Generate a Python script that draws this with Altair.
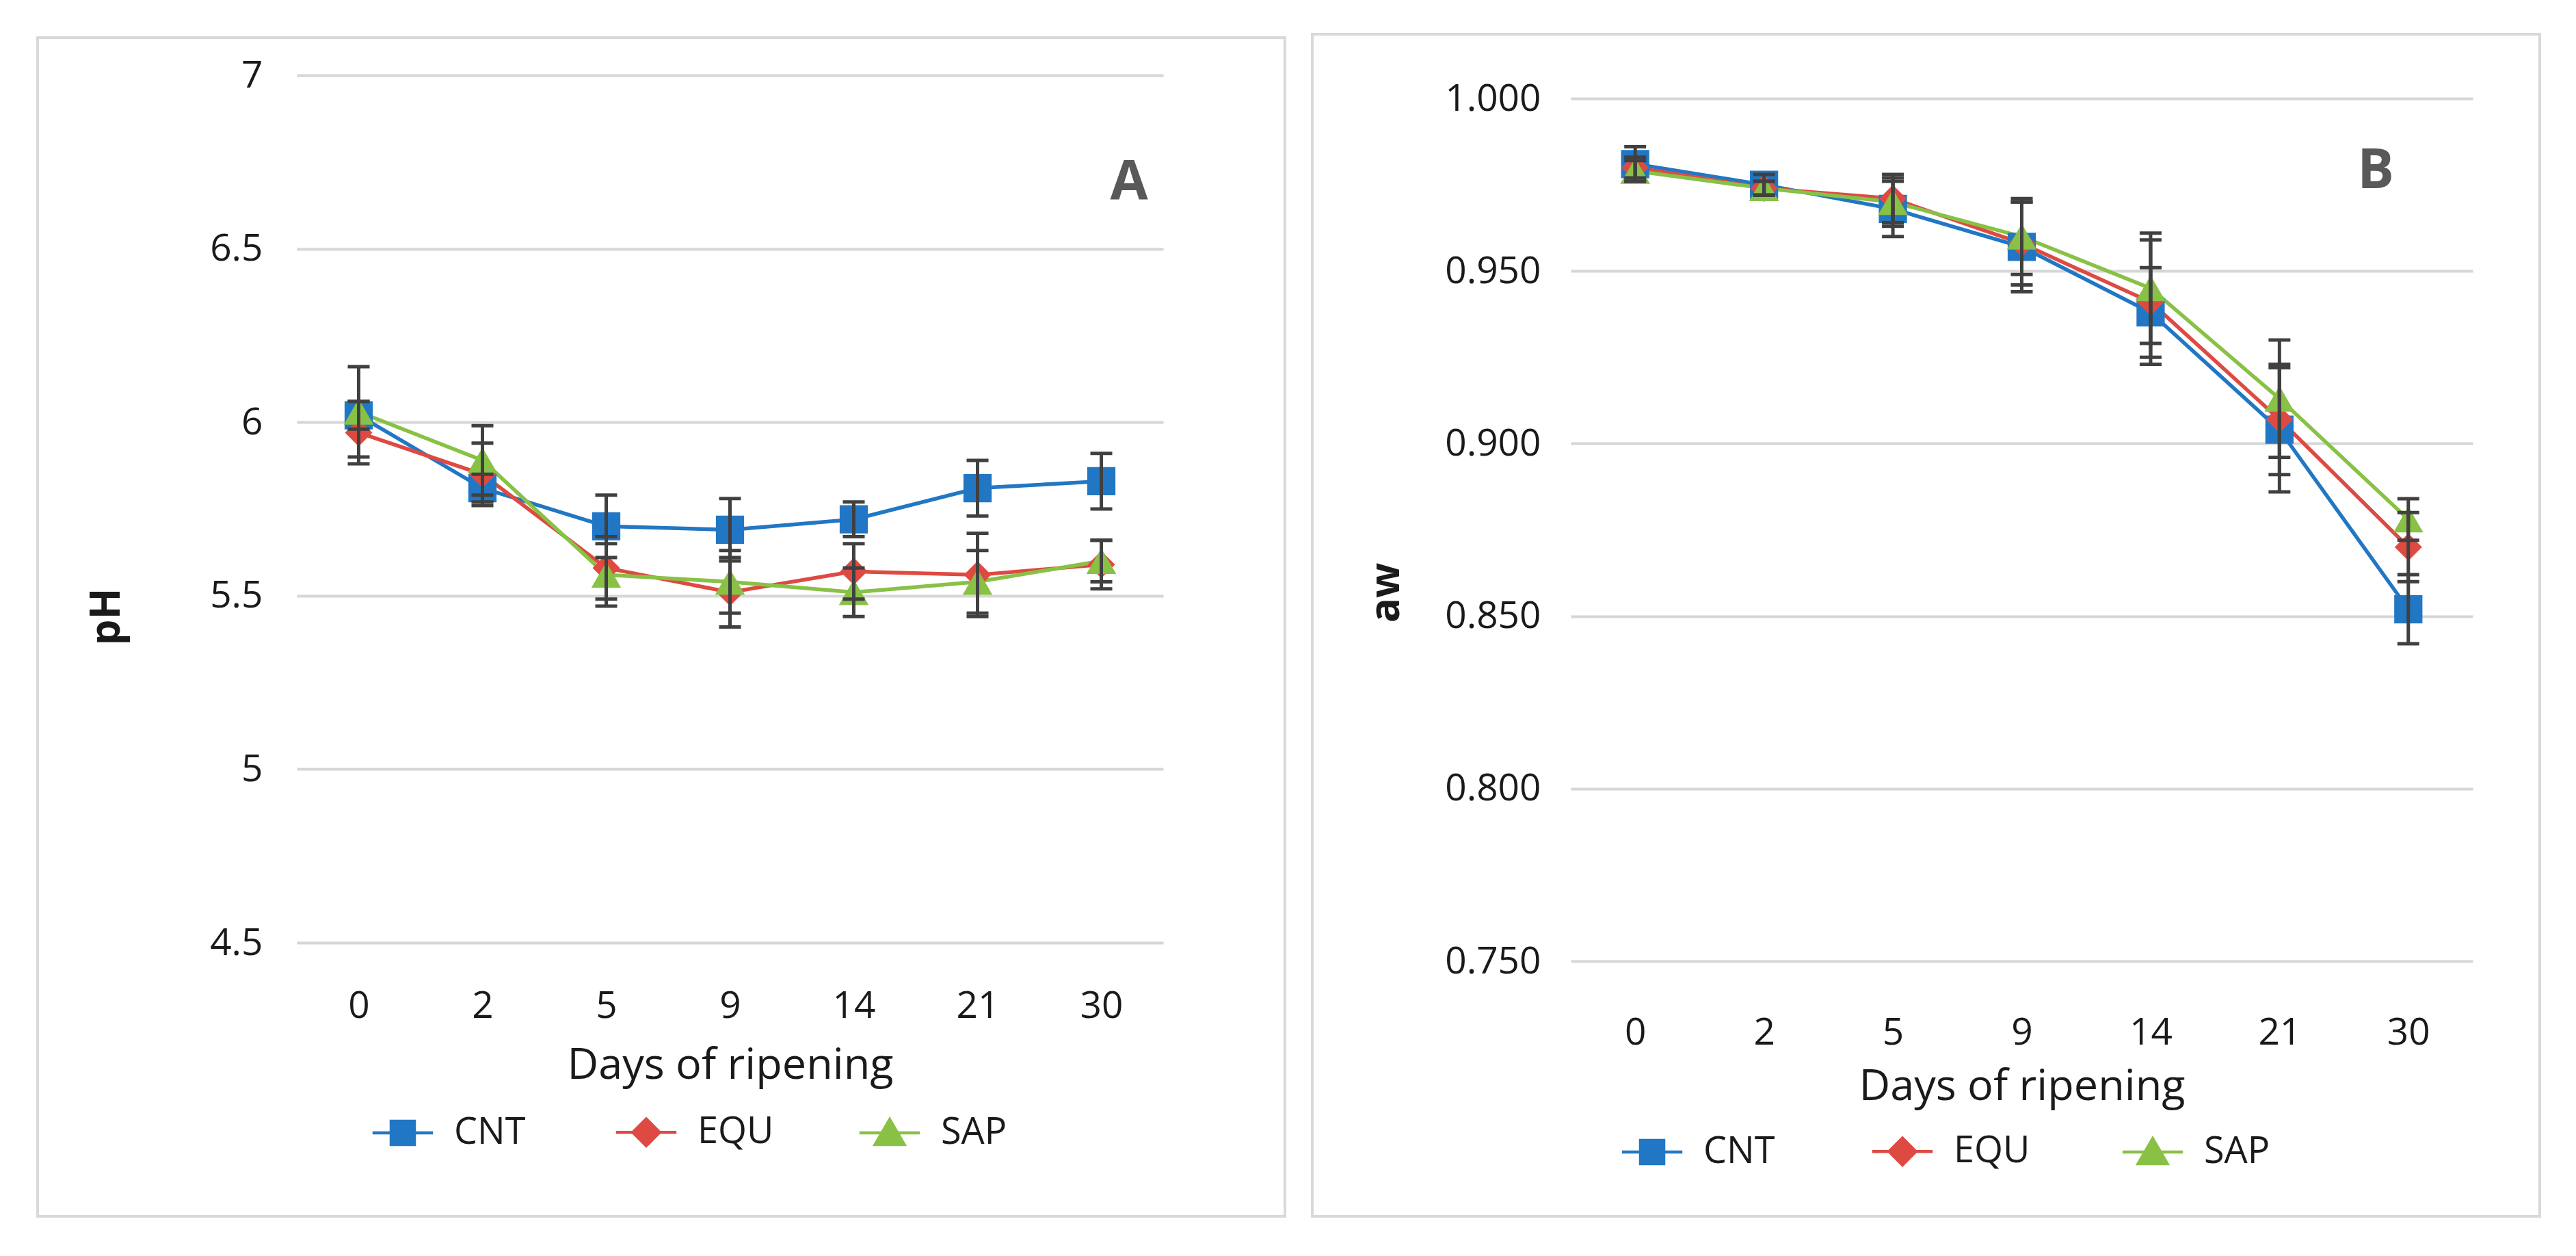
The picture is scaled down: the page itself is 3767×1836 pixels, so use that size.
import altair as alt
import pandas as pd

days = ["0", "2", "5", "9", "14", "21", "30"]
series_names = ["CNT", "EQU", "SAP"]
colors = ["#2177C4", "#DE4A42", "#88C145"]

# Panel A: pH
ph_cnt = [6.02, 5.81, 5.70, 5.69, 5.72, 5.81, 5.83]
ph_equ = [5.97, 5.85, 5.58, 5.51, 5.57, 5.56, 5.59]
ph_sap = [6.03, 5.89, 5.56, 5.54, 5.51, 5.54, 5.60]
ph_cnt_err = [0.04, 0.04, 0.09, 0.09, 0.05, 0.08, 0.08]
ph_equ_err = [0.09, 0.09, 0.09, 0.10, 0.08, 0.12, 0.07]
ph_sap_err = [0.13, 0.10, 0.09, 0.09, 0.07, 0.09, 0.06]
ph_ticks = [4.5, 5.0, 5.5, 6.0, 6.5, 7.0]

# Panel B: aw
aw_cnt = [0.981, 0.975, 0.968, 0.957, 0.938, 0.904, 0.852]
aw_equ = [0.980, 0.974, 0.971, 0.958, 0.941, 0.907, 0.870]
aw_sap = [0.979, 0.974, 0.970, 0.960, 0.945, 0.913, 0.878]
aw_cnt_err = [0.005, 0.003, 0.008, 0.013, 0.013, 0.018, 0.010]
aw_equ_err = [0.003, 0.002, 0.007, 0.012, 0.018, 0.016, 0.010]
aw_sap_err = [0.003, 0.002, 0.007, 0.011, 0.016, 0.017, 0.006]
aw_ticks = [0.75, 0.80, 0.85, 0.90, 0.95, 1.00]

FONT = "Open Sans"
TXT = "#1a1a1a"
ERR = "#404040"

legend_paths = [
    "M-2.6,0H2.6M-1,-1H1V1H-1Z",
    "M-2.6,0H2.6M0,-1.15L1.15,0L0,1.15L-1.15,0Z",
    "M-2.6,0H2.6M0,-1.15L1.25,1H-1.25Z",
]
point_shapes = ["square", "diamond", "triangle-up"]
point_sizes = [1700, 1600, 1900]


def long_df(vals, errs):
    rows = []
    for s, v, e in zip(series_names, vals, errs):
        for d, vv, ee in zip(days, v, e):
            rows.append({"day": d, "series": s, "value": vv, "err": ee})
    return pd.DataFrame(rows)


def panel(df, width, height, yrange, domain, ticks, fmt, ytitle, ytitle_xy,
          ylabel_pad, xlabel_pad, xtitle_y, letter, letter_xy, frame,
          legend_xy, col_pad):
    yscale = alt.Scale(domain=domain, nice=False, zero=False, range=yrange)
    yaxis = alt.Axis(values=ticks, format=fmt, title=ytitle, labelPadding=ylabel_pad,
                     titleX=ytitle_xy[0], titleY=ytitle_xy[1], titleAngle=-90,
                     titleAlign="center", titleBaseline="middle",
                     titleFontWeight="bold", titleFontSize=60, grid=True)
    xaxis = alt.Axis(labelAngle=0, labelPadding=xlabel_pad, labelBaseline="middle",
                     title="Days of ripening", titleY=xtitle_y, titleBaseline="middle",
                     titleFontWeight="normal", titleFontSize=63, grid=False)
    x = alt.X("day:O", sort=days, scale=alt.Scale(type="point", padding=0.5), axis=xaxis)

    base = alt.Chart(df).encode(x=x)

    one = pd.DataFrame({"k": [0]})
    frame_layer = alt.Chart(one).mark_rect(filled=False, stroke="#d9d9d9", strokeWidth=4).encode(
        x=alt.value(frame[0]), x2=alt.value(frame[1]),
        y=alt.value(frame[2]), y2=alt.value(frame[3]))

    lines = base.mark_line(strokeWidth=5.5).encode(
        y=alt.Y("value:Q", scale=yscale, axis=yaxis),
        color=alt.Color("series:N", scale=alt.Scale(domain=series_names, range=colors), legend=None),
    )

    pts = []
    for s, c, shp, sz in zip(series_names, colors, point_shapes, point_sizes):
        pts.append(
            base.transform_filter(alt.datum.series == s)
            .mark_point(filled=True, shape=shp, size=sz, color=c, opacity=1)
            .encode(y=alt.Y("value:Q", scale=yscale, title=ytitle))
        )

    eb = base.transform_calculate(lo="datum.value - datum.err", hi="datum.value + datum.err")
    stems = eb.mark_rule(color=ERR, strokeWidth=5).encode(
        y=alt.Y("lo:Q", scale=yscale, title=ytitle), y2="hi:Q")
    cap_lo = eb.mark_tick(color=ERR, thickness=5, size=32, orient="horizontal", opacity=1).encode(
        y=alt.Y("lo:Q", scale=yscale, title=ytitle))
    cap_hi = eb.mark_tick(color=ERR, thickness=5, size=32, orient="horizontal", opacity=1).encode(
        y=alt.Y("hi:Q", scale=yscale, title=ytitle))

    leg = alt.Legend(orient="none", legendX=legend_xy[0], legendY=legend_xy[1],
                     direction="horizontal", title=None, padding=0, gridAlign="all",
                     labelFont=FONT, labelFontSize=54, labelColor=TXT,
                     symbolSize=1156, symbolStrokeWidth=4.5, symbolOpacity=1,
                     labelOffset=48, columnPadding=col_pad)
    dummy = base.mark_point(filled=True, size=1156, opacity=0).encode(
        y=alt.Y("value:Q", scale=yscale, title=ytitle),
        shape=alt.Shape("series:N", scale=alt.Scale(domain=series_names, range=legend_paths), legend=leg),
        fill=alt.Fill("series:N", scale=alt.Scale(domain=series_names, range=colors), legend=leg),
        stroke=alt.Stroke("series:N", scale=alt.Scale(domain=series_names, range=colors), legend=leg),
    )

    letter_layer = alt.Chart(one).mark_text(
        text=letter, font=FONT, fontSize=80, fontWeight="bold", color="#595959",
        align="center", baseline="middle").encode(
        x=alt.value(letter_xy[0]), y=alt.value(letter_xy[1]))

    return alt.layer(frame_layer, dummy, lines, *pts, stems, cap_lo, cap_hi, letter_layer).properties(
        width=width, height=height)


dfa = long_df([ph_cnt, ph_equ, ph_sap], [ph_cnt_err, ph_equ_err, ph_sap_err])
dfb = long_df([aw_cnt, aw_equ, aw_sap], [aw_cnt_err, aw_equ_err, aw_sap_err])

HA = 1268
pa = panel(dfa, 1267, HA, [HA, 0], [4.5, 7.0], ph_ticks, "~g", "pH", (-278, 791),
           50, 92, 179, "A", (1217, 158), (-379, 1445, -55, 1668), (128, 1518), 115)
HB = 1295
pb = panel(dfb, 1319, HB, [HB, 34], [0.75, 1.0], aw_ticks, ".3f", "aw", (-270, 756),
           44, 104, 183, "B", (1177, 141), (-378, 1417, -60, 1668), (92, 1546), 125)

chart = alt.hconcat(pa, pb, spacing=36).resolve_scale(
    x="independent", y="independent", color="independent", fill="independent",
    stroke="independent", shape="independent"
).resolve_legend(
    fill="independent", stroke="independent", shape="independent"
).properties(
    padding={"left": 45, "top": 40, "right": 10, "bottom": 10}
).configure(
    background="white"
).configure_view(stroke=None).configure_axis(
    labelFont=FONT, labelFontSize=55, labelColor=TXT, titleFont=FONT, titleColor=TXT,
    domain=False, ticks=False, tickSize=0, gridColor="#d6d6d6", gridWidth=4,
)

chart.save("out.html", embed_options={"renderer": "svg", "actions": False})
